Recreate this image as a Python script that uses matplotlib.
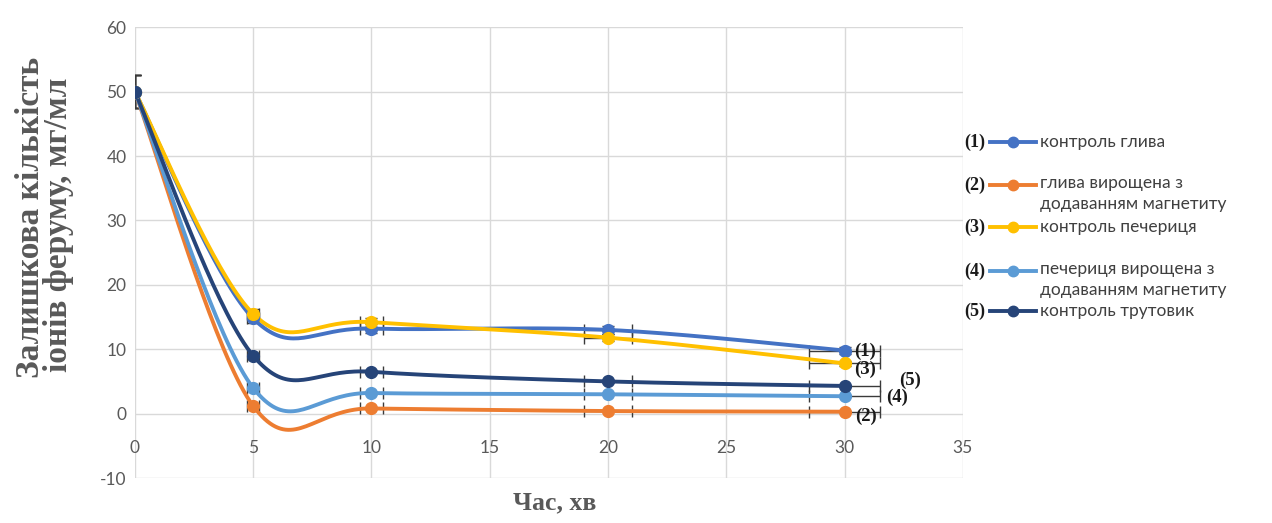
import numpy as np
import matplotlib
matplotlib.use("Agg")
import matplotlib.pyplot as plt
from matplotlib.lines import Line2D

plt.rcParams["axes.unicode_minus"] = False

# ---- data ----
time_min = [0, 5, 10, 20, 30]
s1_kontrol_hlyva = [50, 14.8, 13.2, 13.0, 9.8]
s2_hlyva_magnetyt = [50, 1.2, 0.8, 0.4, 0.3]
s3_kontrol_pecherytsia = [50, 15.5, 14.2, 11.8, 7.8]
s4_pecherytsia_magnetyt = [50, 4.0, 3.2, 3.0, 2.7]
s5_kontrol_trutovyk = [50, 9.0, 6.5, 5.0, 4.3]

series_labels = ["контроль глива",
                 "глива вирощена з\nдодаванням магнетиту",
                 "контроль печериця",
                 "печериця вирощена з\nдодаванням магнетиту",
                 "контроль трутовик"]
series_tags = ["(1)", "(2)", "(3)", "(4)", "(5)"]
colors = ["#4472C4", "#ED7D31", "#FFC000", "#5B9BD5", "#264478"]
err_pct = 0.05

x_ticks = [0, 5, 10, 15, 20, 25, 30, 35]
y_ticks = [-10, 0, 10, 20, 30, 40, 50, 60]

series = [s1_kontrol_hlyva, s2_hlyva_magnetyt, s3_kontrol_pecherytsia,
          s4_pecherytsia_magnetyt, s5_kontrol_trutovyk]


def smooth(xs, ys, n=40):
    """Excel-like smoothed line through the points (cubic Bezier segments)."""
    P = np.column_stack([xs, ys]).astype(float)
    out = []
    m = len(P)
    for i in range(m - 1):
        p0 = P[i - 1] if i > 0 else P[i]
        p1 = P[i]
        p2 = P[i + 1]
        p3 = P[i + 2] if i + 2 < m else P[i + 1]
        c1 = p1 + (p2 - p0) / 6.0
        c2 = p2 - (p3 - p1) / 6.0
        t = np.linspace(0, 1, n)[:, None]
        seg = ((1 - t) ** 3) * p1 + 3 * ((1 - t) ** 2) * t * c1 + 3 * (1 - t) * t ** 2 * c2 + t ** 3 * p2
        out.append(seg if i == 0 else seg[1:])
    c = np.vstack(out)
    return c[:, 0], c[:, 1]


W, H = 1272.0, 523.0
fig = plt.figure(figsize=(12.72, 5.23), dpi=100)
ax = fig.add_axes([0.106, 0.086, 0.651, 0.862])

for ys, col in zip(series, colors):
    sx, sy = smooth(time_min, ys)
    ax.plot(sx, sy, color=col, lw=2.8, zorder=3, solid_capstyle="round")
    ax.plot(time_min, ys, "o", color=col, ms=8.5, zorder=4)
    xe = [err_pct * v for v in time_min]
    ye = [err_pct * v for v in ys]
    ax.errorbar(time_min, ys, xerr=xe, yerr=ye, fmt="none", ecolor="#3a3a3a",
                elinewidth=1.0, capsize=4, capthick=1.0, zorder=2)

# curve tags near last points
tag_pos = [(30.85, 9.6), (30.9, -0.5), (30.85, 6.8), (32.2, 2.6), (32.75, 5.1)]
for tag, (tx, ty) in zip(series_tags, tag_pos):
    ax.text(tx, ty, tag, ha="center", va="center", fontsize=13.5,
            family="Liberation Serif", fontweight="bold", color="#1a1a1a", zorder=5)

ax.set_xlim(0, 35)
ax.set_ylim(-10, 60)
ax.set_xticks(x_ticks)
ax.set_yticks(y_ticks)
ax.grid(True, color="#d9d9d9", lw=1.0, zorder=0)
for s in ax.spines.values():
    s.set_visible(False)
ax.spines["bottom"].set_position(("data", 0))
ax.tick_params(length=0, labelsize=12.5, labelcolor="#595959")
ax.tick_params(axis="x", pad=19)
ax.tick_params(axis="y", pad=6)
for lab in ax.get_xticklabels() + ax.get_yticklabels():
    lab.set_family("Lato")

# axis titles
fig.text(555 / W, 1 - 503 / H, "Час, хв", ha="center", va="center", fontsize=18.5,
         family="Liberation Serif", fontweight="bold", color="#595959")
fig.text(31 / W, 1 - 217 / H, "Залишкова кількість", ha="center", va="center",
         rotation=90, fontsize=24, family="Liberation Serif", fontweight="bold",
         color="#595959")
fig.text(59 / W, 1 - 225 / H, "іонів феруму, мг/мл", ha="center", va="center",
         rotation=90, fontsize=24, family="Liberation Serif", fontweight="bold",
         color="#595959")

# legend (manual, Excel-style with tags)
leg_y = [142, 185, 227, 271, 311]  # pixel rows from the top
for tag, lab, col, py in zip(series_tags, series_labels, colors, leg_y):
    fy = 1 - py / H
    fig.text(975 / W, fy, tag, ha="center", va="center", fontsize=13,
             family="Liberation Serif", fontweight="bold", color="#1a1a1a")
    fig.add_artist(Line2D([990 / W, 1036 / W], [fy, fy], color=col, lw=2.8,
                          transform=fig.transFigure))
    fig.add_artist(Line2D([1013 / W], [fy], marker="o", ms=7.5, color=col,
                          transform=fig.transFigure))
    if "\n" in lab:
        fig.text(1040 / W, fy + 10 / H, lab, ha="left", va="top",
                 fontsize=12.5, family="Lato", color="#404040", linespacing=1.35)
    else:
        fig.text(1040 / W, fy, lab, ha="left", va="center",
                 fontsize=12.5, family="Lato", color="#404040")

fig.savefig("out.png", dpi=100)
